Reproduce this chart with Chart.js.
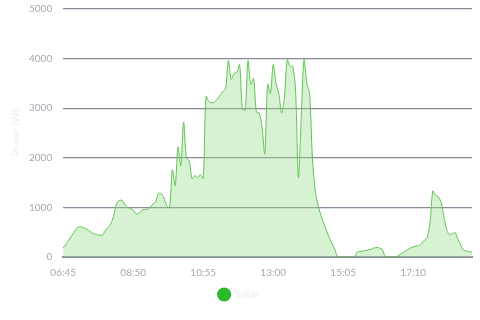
<!DOCTYPE html>
<html>
<head>
<meta charset="utf-8">
<script src="https://cdn.jsdelivr.net/npm/chart.js@4/dist/chart.umd.min.js"></script>
<style>
  html, body { margin: 0; padding: 0; background: #fff; }
  #wrap { width: 480px; height: 320px; }
</style>
</head>
<body>
<div id="wrap"><canvas id="powerChart" width="480" height="320"></canvas></div>
<script>
var times = [
  "06:45", "06:50", "06:55",
  "07:00", "07:05", "07:10", "07:15", "07:20", "07:25", "07:30", "07:35", "07:40", "07:45", "07:50", "07:55",
  "08:00", "08:05", "08:10", "08:15", "08:20", "08:25", "08:30", "08:35", "08:40", "08:45", "08:50", "08:55",
  "09:00", "09:05", "09:10", "09:15", "09:20", "09:25", "09:30", "09:35", "09:40", "09:45", "09:50", "09:55",
  "10:00", "10:05", "10:10", "10:15", "10:20", "10:25", "10:30", "10:35", "10:40", "10:45", "10:50", "10:55",
  "11:00", "11:05", "11:10", "11:15", "11:20", "11:25", "11:30", "11:35", "11:40", "11:45", "11:50", "11:55",
  "12:00", "12:05", "12:10", "12:15", "12:20", "12:25", "12:30", "12:35", "12:40", "12:45", "12:50", "12:55",
  "13:00", "13:05", "13:10", "13:15", "13:20", "13:25", "13:30", "13:35", "13:40", "13:45", "13:50", "13:55",
  "14:00", "14:05", "14:10", "14:15", "14:20", "14:25", "14:30", "14:35", "14:40", "14:45", "14:50", "14:55",
  "15:00", "15:05", "15:10", "15:15", "15:20", "15:25", "15:30", "15:35", "15:40", "15:45", "15:50", "15:55",
  "16:00", "16:05", "16:10", "16:15", "16:20", "16:25", "16:30", "16:35", "16:40", "16:45", "16:50", "16:55",
  "17:00", "17:05", "17:10", "17:15", "17:20", "17:25", "17:30", "17:35", "17:40", "17:45", "17:50", "17:55",
  "18:00", "18:05", "18:10", "18:15", "18:20", "18:25", "18:30", "18:35", "18:40", "18:45", "18:50", "18:55"
];

var solar = [
  180, 260, 340, 430, 510, 590, 610, 595, 570, 540,
  500, 465, 450, 440, 440, 530, 600, 670, 820, 1070,
  1140, 1140, 1070, 1000, 980, 950, 870, 880, 940, 960,
  960, 1000, 1065, 1110, 1280, 1280, 1190, 1030, 1000, 1760,
  1440, 2220, 1840, 2720, 2000, 1940, 1580, 1640, 1600, 1660,
  1580, 3240, 3140, 3110, 3120, 3180, 3260, 3330, 3400, 3960,
  3580, 3700, 3720, 3880, 2980, 2960, 3960, 3480, 3600, 2920,
  2900, 2620, 2080, 3480, 3300, 3880, 3500, 3300, 2900, 3200,
  3980, 3840, 3840, 3340, 1600, 2800, 3980, 3500, 3300, 2000,
  1350, 1050, 850, 690, 540, 390, 270, 160, 0, 0,
  0, 0, 0, 0, 0, 100, 110, 120, 130, 145,
  155, 180, 195, 180, 150, 0, 0, 0, 0, 0,
  40, 80, 110, 145, 180, 205, 220, 235, 270, 340,
  400, 680, 1330, 1240, 1210, 1100, 800, 540, 450, 470,
  490, 350, 240, 140, 120, 105, 100
];

var xTickLabels = ["06:45", "08:50", "10:55", "13:00", "15:05", "17:10"];
var yTicks = [0, 1000, 2000, 3000, 4000, 5000];

var ctx = document.getElementById("powerChart").getContext("2d");
var powerChart = new Chart(ctx, {
  type: 'line',
  data: {
    labels: times,
    datasets: [{
      label: "Solar",
      data: solar,
      borderColor: 'rgb(98, 196, 84)',
      backgroundColor: 'rgba(150, 220, 140, 0.38)',
      borderWidth: 1,
      fill: 'origin',
      pointRadius: 0,
      pointStyle: 'circle',
      tension: 0.3
    }]
  },
  options: {
    responsive: false,
    animation: false,
    layout: { padding: { left: 6, right: 8, top: 0, bottom: 10 } },
    plugins: {
      tooltip: { enabled: false },
      legend: {
        position: 'bottom',
        labels: {
          usePointStyle: true,
          boxWidth: 10,
          boxHeight: 10,
          padding: 8,
          color: '#eeeeee',
          font: { family: 'Lato', size: 11 },
          generateLabels: function(chart) {
            return [{
              text: "Solar",
              fillStyle: '#2eb82e',
              strokeStyle: '#2eb82e',
              fontColor: '#eeeeee',
              lineWidth: 0,
              pointStyle: 'circle',
              datasetIndex: 0
            }];
          }
        }
      }
    },
    scales: {
      x: {
        grid: { display: false },
        border: { display: true, color: '#8e8e9a', width: 2 },
        ticks: {
          autoSkip: false,
          maxRotation: 0,
          color: '#a8a8b0',
          font: { family: 'Lato', size: 10 },
          padding: 2,
          callback: function(value, index) {
            var t = times[index];
            return xTickLabels.indexOf(t) >= 0 ? t : null;
          }
        }
      },
      y: {
        min: yTicks[0],
        max: yTicks[yTicks.length - 1],
        afterBuildTicks: function(axis) {
          axis.ticks = yTicks.map(function(v) { return { value: v }; });
        },
        border: { display: false },
        grid: {
          color: '#8a8a98',
          lineWidth: 1.3,
          drawTicks: true,
          tickLength: 8,
          tickColor: 'rgba(0,0,0,0)'
        },
        title: {
          display: true,
          text: "Power (W)",
          color: '#eeeeee',
          font: { family: 'Lato', size: 10 }
        },
        ticks: {
          color: '#a8a8b0',
          font: { family: 'Lato', size: 10 },
          padding: 3,
          callback: function(value) { return String(value); }
        }
      }
    }
  }
});
</script>
</body>
</html>
